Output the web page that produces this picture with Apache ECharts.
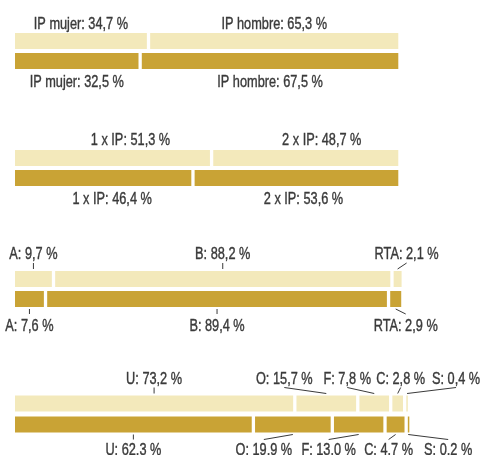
<!DOCTYPE html>
<html>
<head>
<meta charset="utf-8">
<script src="https://cdn.jsdelivr.net/npm/echarts@6/dist/echarts.min.js"></script>
<style>
  html, body { margin: 0; padding: 0; background: #fff; }
  #chart { width: 480px; height: 455px; }
</style>
</head>
<body>
<div id="chart"></div>
<script>
// segment names per group
const segNames = [
  ["IP mujer", "IP hombre"],
  ["1 x IP", "2 x IP"],
  ["A", "B", "RTA"],
  ["U", "O", "F", "C", "S"]
]
// upper (light) bar values, %
const lightValues = [
  [34.7, 65.3],
  [51.3, 48.7],
  [9.7, 88.2, 2.1],
  [73.2, 15.7, 7.8, 2.8, 0.4]
]
// lower (dark) bar values, %
const darkValues = [
  [32.5, 67.5],
  [46.4, 53.6],
  [7.6, 89.4, 2.9],
  [62.3, 19.9, 13.0, 4.7, 0.2]
]

// layout bits (pixels)
const gridTops = [31, 148, 269, 393]
const gridHeights = [40, 40, 40, 42]
const withLeaders = [false, false, true, true]
const lightLabelDx = [[0, 0], [18, 16], [0, 0, 9], [0, -42, -27, 3, 49]]
const darkLabelDx = [[0, 0], [9, 7], [0, 0, 10], [0, -29, -30, -7, 40]]
const lightLabelGap = [9, 10, 16.2, 15.8]
const darkLabelGap = [13.5, 13, 19.2, 17.7]

const LIGHT = "#f3e9bb"
const DARK = "#c9a335"
const TEXT = "#3a3a3a"
const GAP = 3.3
const BAR_H = 16
// condensed look: regular sans squeezed horizontally
const FONT = "17px 'Liberation Sans', Arial, sans-serif"
const SQUEEZE = 0.75

const fmt = v => v.toFixed(1).replace(".", ",") + " %"

const buildData = g => {
  const items = []
  ;[lightValues[g], darkValues[g]].forEach((vals, row) => {
    let cum = 0
    vals.forEach((v, i) => {
      items.push({
        name: segNames[g][i] + ": " + fmt(v),
        value: [cum, cum + v, row, i]
      })
      cum += v
    })
  })
  return items
}

const makeRender = (g, data) => (params, api) => {
  const row = api.value(2)
  const seg = api.value(3)
  const p0 = api.coord([api.value(0), row])
  const p1 = api.coord([api.value(1), row])
  const x0 = p0[0] + seg * GAP
  const x1 = p1[0] + seg * GAP
  const top = p0[1] - BAR_H / 2
  const bottom = p0[1] + BAR_H / 2
  const cx = (x0 + x1) / 2
  const dx = (row === 0 ? lightLabelDx : darkLabelDx)[g][seg]
  const lx = cx + dx
  const leader = withLeaders[g]
  const children = [
    {
      type: "rect",
      shape: { x: x0, y: top, width: Math.max(x1 - x0, 1.5), height: BAR_H },
      style: { fill: row === 0 ? LIGHT : DARK }
    }
  ]
  let ly
  if (row === 0) {
    ly = top - lightLabelGap[g]
    if (leader) {
      children.push({
        type: "line",
        shape: { x1: cx, y1: top - 2, x2: lx, y2: top - 8 },
        style: { stroke: TEXT, lineWidth: 1 }
      })
    }
  } else {
    ly = bottom + darkLabelGap[g]
    if (leader) {
      children.push({
        type: "line",
        shape: { x1: cx, y1: bottom + 2, x2: lx, y2: bottom + 7 },
        style: { stroke: TEXT, lineWidth: 1 }
      })
    }
  }
  children.push({
    type: "text",
    x: lx,
    y: ly,
    scaleX: SQUEEZE,
    style: {
      text: data[params.dataIndex].name,
      x: 0,
      y: 0,
      align: "center",
      verticalAlign: "middle",
      fill: TEXT,
      stroke: TEXT,
      lineWidth: 0.4,
      font: FONT
    }
  })
  return { type: "group", children }
}

const grids = [], xAxes = [], yAxes = [], series = []
gridTops.forEach((t, g) => {
  grids.push({ left: 15, width: 380, top: t, height: gridHeights[g] })
  xAxes.push({ type: "value", gridIndex: g, min: 0, max: 100, show: false })
  yAxes.push({ type: "category", gridIndex: g, data: ["light", "dark"], inverse: true, show: false })
  const data = buildData(g)
  series.push({
    type: "custom",
    xAxisIndex: g,
    yAxisIndex: g,
    clip: false,
    silent: true,
    renderItem: makeRender(g, data),
    data
  })
})

const chart = echarts.init(document.getElementById("chart"), null, { renderer: "canvas" })
chart.setOption({
  animation: false,
  backgroundColor: "#fff",
  grid: grids,
  xAxis: xAxes,
  yAxis: yAxes,
  series
})
window.addEventListener("resize", () => chart.resize())
</script>
</body>
</html>
